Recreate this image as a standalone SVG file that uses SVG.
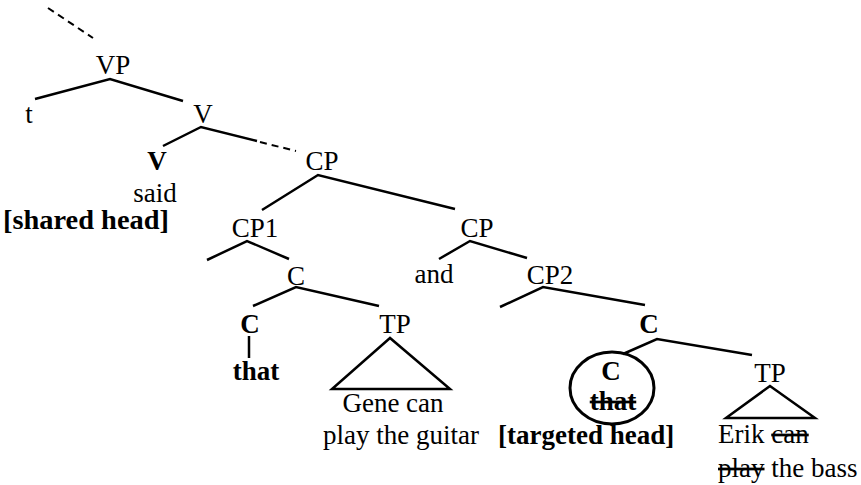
<svg xmlns="http://www.w3.org/2000/svg" width="861" height="485" viewBox="0 0 861 485">
<style>
text{font-family:"Liberation Serif","DejaVu Serif","Times New Roman",Times,serif;font-size:27px;fill:#000}
.b{font-weight:bold;font-size:27px}
.m{text-anchor:middle}
.e{fill:none;stroke:#000;stroke-width:2.5;stroke-linejoin:miter}
.d{fill:none;stroke:#000;stroke-width:2;stroke-dasharray:7 5}
.s{text-decoration:line-through}
</style>
<rect width="861" height="485" fill="#fff"/>
<g id="connectors">
<path class="d" d="M48,8 L93,38"/>
<path class="e" d="M35,99 L110,79 L183,101"/>
<path class="e" d="M163,146 L201,127 L257,141"/>
<path class="d" d="M260,142 L296,151" stroke-dasharray="8 5"/>
<path class="e" d="M262,210 L318,175 L455,209"/>
<path class="e" d="M207,260 L247,241 L289,259"/>
<path class="e" d="M439,259 L470,241 L527,258"/>
<path class="e" d="M253,306 L296,287 L379,306"/>
<path class="e" d="M249,336 L249,358"/>
<path class="e" d="M500,307 L543,287 L645,305"/>
<path class="e" d="M623,354 L657,339 L752,355"/>
</g>
<g id="VP"><text class="m" x="113" y="74">VP</text></g>
<g id="t"><text class="m" x="29" y="123">t</text></g>
<g id="V1"><text class="m" x="203" y="123">V</text></g>
<g id="V0"><text class="b m" x="157" y="170">V</text><text class="m" x="155" y="202">said</text><text class="b" x="3" y="229" textLength="166" lengthAdjust="spacingAndGlyphs">[shared head]</text></g>
<g id="CP"><text class="m" x="322" y="170">CP</text></g>
<g id="CP1"><text class="m" x="255" y="237">CP1</text></g>
<g id="CPr"><text class="m" x="477" y="237">CP</text></g>
<g id="C1"><text class="m" x="296" y="285">C</text></g>
<g id="and"><text class="m" x="434" y="283">and</text></g>
<g id="CP2"><text class="m" x="550" y="284">CP2</text></g>
<g id="C0a"><text class="b m" x="250" y="333">C</text><text class="b m" x="256" y="380">that</text></g>
<g id="TPa"><text class="m" x="395" y="333">TP</text><path class="e" d="M390,338 L332,389 L450,389 Z"/><text class="m" x="393" y="412">Gene can</text><text class="m" x="401" y="444">play the guitar</text></g>
<g id="C2"><text class="b m" x="649" y="333">C</text></g>
<g id="C0b"><ellipse cx="612" cy="388" rx="42" ry="36" fill="none" stroke="#000" stroke-width="3"/><text class="b m" x="611" y="380">C</text><text class="b m s" x="613" y="410">that</text><text class="b" x="498" y="444">[targeted head]</text></g>
<g id="TPb"><text class="m" x="770" y="382">TP</text><path class="e" d="M770,386 L726,418 L815,418 Z"/><text x="718" y="443">Erik <tspan class="s">can</tspan></text><text x="718" y="477"><tspan class="s">play</tspan> the bass</text></g>
</svg>
